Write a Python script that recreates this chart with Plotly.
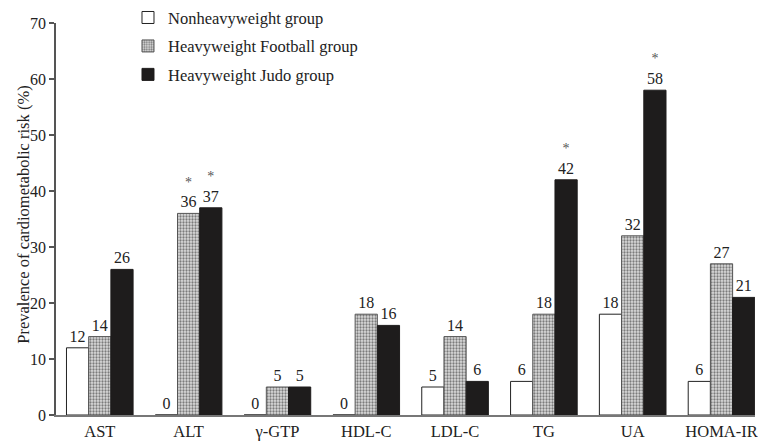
import plotly.graph_objects as go

# Cardiometabolic risk markers and prevalence (%) per group
categories = ["AST", "ALT", "γ-GTP", "HDL-C", "LDL-C", "TG", "UA", "HOMA-IR"]
nonheavy = [12, 0, 0, 0, 5, 6, 18, 6]
football = [14, 36, 5, 18, 14, 18, 32, 27]
judo = [26, 37, 5, 16, 6, 42, 58, 21]

# Significance markers shown above the value labels
football_sig = [False, True, False, False, False, False, False, False]
judo_sig = [False, True, False, False, False, True, True, False]

y_ticks = [0, 10, 20, 30, 40, 50, 60, 70]
y_title = "Prevalence of cardiometabolic risk (%)"

FONT = "Liberation Serif"
TXT = "#222222"


def labels(values, sig=None):
    out = []
    for i, v in enumerate(values):
        s = str(v)
        if sig is not None and sig[i]:
            s = "<span style='font-size:14px;color:#555555'>*</span><br>" + s
        out.append(s)
    return out


fig = go.Figure()

fig.add_trace(go.Bar(
    name="Nonheavyweight group", x=categories, y=nonheavy,
    text=labels(nonheavy), textposition="outside",
    marker=dict(color="white", line=dict(color="#222222", width=1)),
    legendgroup="a",
))
fig.add_trace(go.Bar(
    name="Heavyweight Football group", x=categories, y=football,
    text=labels(football, football_sig), textposition="outside",
    marker=dict(color="#d0d0d0",
                line=dict(color="#555555", width=1),
                pattern=dict(shape=".", fgcolor="#1a1a1a", bgcolor="#dcdcdc",
                             size=3, solidity=0.45)),
    legendgroup="b",
))
fig.add_trace(go.Bar(
    name="Heavyweight Judo group", x=categories, y=judo,
    text=labels(judo, judo_sig), textposition="outside",
    marker=dict(color="#1e1c1c", line=dict(color="#1e1c1c", width=1)),
    legendgroup="c",
))

fig.update_traces(
    textfont=dict(family=FONT, size=16, color=TXT),
    cliponaxis=False,
)

fig.update_layout(
    width=758, height=445,
    margin=dict(l=56, r=0, t=23, b=30),
    paper_bgcolor="white", plot_bgcolor="white",
    barmode="group", bargap=0.25, bargroupgap=0,
    font=dict(family=FONT, size=16, color=TXT),
    showlegend=True,
    legend=dict(
        x=0.103, xanchor="left",
        y=1.058, yanchor="top",
        bgcolor="rgba(0,0,0,0)",
        font=dict(family=FONT, size=16.5, color=TXT),
        tracegroupgap=4,
        itemwidth=30,
    ),
    annotations=[dict(
        text=y_title, textangle=-90,
        xref="paper", yref="paper", x=-0.0477, y=0.51,
        xanchor="center", yanchor="middle", showarrow=False,
        font=dict(family=FONT, size=16.5, color=TXT),
    )],
)

fig.update_xaxes(
    range=[-0.493, 7.377],
    showline=True, linecolor="#777777", linewidth=1.5,
    ticks="", showgrid=False, zeroline=False,
    tickfont=dict(family=FONT, size=16.5, color=TXT),
)
fig.update_yaxes(
    range=[0, 70], tickvals=y_ticks,
    showline=True, linecolor="#555555", linewidth=1.5,
    ticks="outside", ticklen=5, tickcolor="#555555", tickwidth=1.5,
    showgrid=False, zeroline=False,
    tickfont=dict(family=FONT, size=16, color=TXT),
)

fig.write_html("out.html")
